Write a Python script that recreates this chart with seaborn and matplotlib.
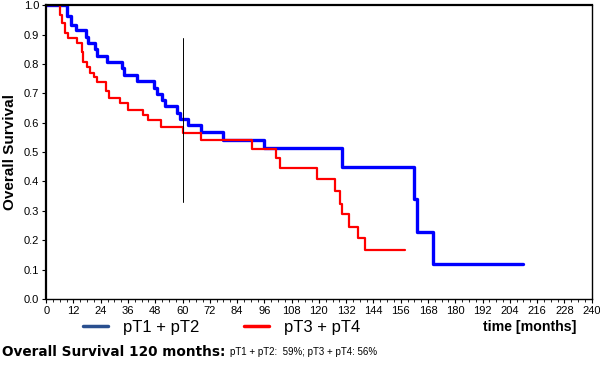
import pandas as pd
import matplotlib
matplotlib.use('Agg')
import matplotlib.pyplot as plt
import seaborn as sns
from matplotlib.ticker import MultipleLocator
from matplotlib.lines import Line2D

blue_time = [0, 9.2, 10.8, 13.2, 17.6, 18.5, 21.6, 22.5, 26.9, 33.5, 34.4, 40.0, 47.6,
             48.9, 51.1, 52.4, 57.7, 59.0, 62.3, 68.0, 78.0, 96.0, 130.3, 162.0, 163.0,
             170.0, 210.0]
blue_surv = [1.0, 0.963, 0.932, 0.915, 0.892, 0.87, 0.85, 0.826, 0.807, 0.786, 0.762,
             0.742, 0.717, 0.697, 0.677, 0.656, 0.634, 0.612, 0.592, 0.568, 0.541, 0.515,
             0.449, 0.34, 0.229, 0.119, 0.119]

red_time = [0, 6.2, 7.0, 8.4, 9.7, 13.7, 15.9, 16.3, 18.0, 19.4, 21.1, 22.5, 26.4, 27.8,
            32.6, 36.1, 42.7, 45.0, 50.7, 60.2, 68.0, 90.6, 101.3, 103.0, 119.3, 126.9,
            129.2, 130.0, 133.2, 137.1, 140.2, 157.8]
red_surv = [1.0, 0.966, 0.94, 0.905, 0.89, 0.87, 0.84, 0.806, 0.79, 0.77, 0.755, 0.74,
            0.708, 0.684, 0.666, 0.645, 0.626, 0.609, 0.585, 0.566, 0.541, 0.509, 0.48,
            0.447, 0.407, 0.368, 0.325, 0.288, 0.246, 0.209, 0.167, 0.167]

groups = ['pT1 + pT2', 'pT3 + pT4']
x_ticks = list(range(0, 241, 12))
y_ticks = [i / 10 for i in range(11)]

df = pd.concat([
    pd.DataFrame({'time': blue_time, 'surv': blue_surv, 'group': groups[0]}),
    pd.DataFrame({'time': red_time, 'surv': red_surv, 'group': groups[1]}),
])

sns.set_style('white')
plt.rcParams['font.family'] = ['Liberation Sans', 'DejaVu Sans']
plt.rcParams['text.color'] = 'black'
plt.rcParams['axes.labelcolor'] = 'black'
plt.rcParams['xtick.color'] = 'black'
plt.rcParams['ytick.color'] = 'black'

fig = plt.figure(figsize=(6, 3.71), dpi=100)
ax = fig.add_axes([0.077, 0.194, 0.909, 0.792])

sns.lineplot(data=df[df.group == groups[0]], x='time', y='surv', color='#0000ff',
             linewidth=2.4, drawstyle='steps-post', estimator=None, ax=ax, legend=False)
sns.lineplot(data=df[df.group == groups[1]], x='time', y='surv', color='#ff0000',
             linewidth=1.6, drawstyle='steps-post', estimator=None, ax=ax, legend=False)

# Linea vertical a 60 meses
ax.plot([60, 60], [0.33, 0.888], color='black', linewidth=0.7)

ax.set_xlim(0, 240)
ax.set_ylim(0, 1.0)
ax.set_xticks(x_ticks)
ax.set_yticks(y_ticks)
ax.set_yticklabels([f'{v:.1f}' for v in y_ticks])
ax.xaxis.set_minor_locator(MultipleLocator(3))
ax.tick_params(axis='both', which='major', direction='out', length=3, width=0.8,
               labelsize=8, bottom=True, left=True, pad=2)
ax.tick_params(axis='x', which='minor', direction='out', length=2, width=0.6, bottom=True)
for s in ax.spines.values():
    s.set_color('black')
    s.set_linewidth(1.0)
ax.spines['left'].set_linewidth(1.6)
ax.spines['top'].set_linewidth(1.6)
ax.set_xlabel('')
ax.set_ylabel('Overall Survival', fontsize=11, fontweight='bold', labelpad=5)

# Leyenda manual debajo del eje
handles = [Line2D([0], [0], color='#2a4f8f', linewidth=2.5),
           Line2D([0], [0], color='#ff0000', linewidth=2.5)]
fig.legend(handles, groups, loc='center left', bbox_to_anchor=(0.113, 0.118), ncol=2,
           frameon=False, fontsize=12, handlelength=1.5, columnspacing=2.7,
           handletextpad=0.9)
fig.text(0.805, 0.118, 'time [months]', fontsize=10.2, fontweight='bold', va='center')

fig.text(0.004, 0.05, 'Overall Survival 120 months:', fontsize=9.8, fontweight='bold',
         va='center', family='DejaVu Sans')
fig.text(0.383, 0.05, 'pT1 + pT2:  59%; pT3 + pT4: 56%', fontsize=7.0, va='center')

fig.savefig('out.png', dpi=100)
